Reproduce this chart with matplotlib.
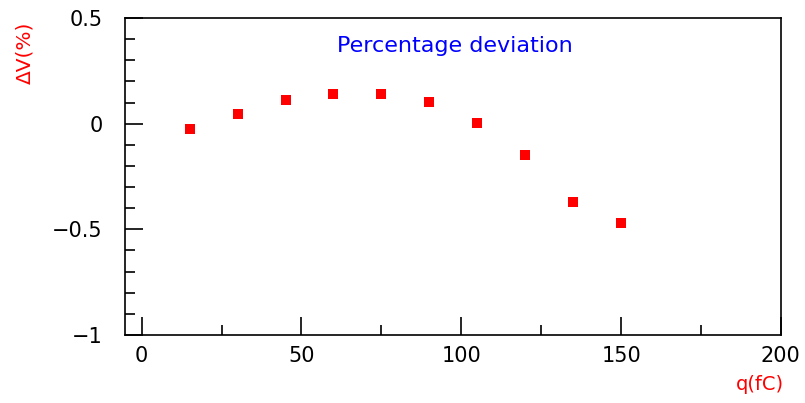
import numpy as np
import matplotlib
matplotlib.use("Agg")
import matplotlib.pyplot as plt
from matplotlib.ticker import MultipleLocator

plt.rcParams['font.family'] = ['DejaVu Sans']

# charge (fC) and percentage deviation
q = [15, 30, 45, 60, 75, 90, 105, 120, 135, 150]
dev = [-0.024, 0.048, 0.11, 0.143, 0.143, 0.105, 0.005, -0.148, -0.371, -0.471]

fig = plt.figure(figsize=(8.05, 4.03), dpi=100)
ax = fig.add_axes([0.155, 0.169, 0.815, 0.786])
ax.plot(q, dev, 's', color='#ff0000', markersize=6.5, markeredgewidth=0)

ax.set_xlim(-5.3, 200)
ax.set_ylim(-1, 0.5)
ax.xaxis.set_major_locator(MultipleLocator(50))
ax.xaxis.set_minor_locator(MultipleLocator(25))
ax.yaxis.set_major_locator(MultipleLocator(0.5))
ax.yaxis.set_minor_locator(MultipleLocator(0.1))
ax.tick_params(which='both', direction='in', top=False, right=False,
               labelsize=15, width=1.2)
ax.tick_params(axis='y', pad=16)
ax.tick_params(axis='x', pad=8)
ax.tick_params(which='major', length=13)
ax.tick_params(which='minor', length=7)
ax.set_yticks([-1, -0.5, 0, 0.5])
ax.set_yticklabels(['\u22121', '\u22120.5', '0', '0.5'])
for s in ax.spines.values():
    s.set_linewidth(1.2)

ax.text(98, 0.37, 'Percentage deviation', color='#0000ff', fontsize=16,
        ha='center', va='center')
fig.text(0.031, 0.87, '\u0394V(%)', color='#ff0000', fontsize=14.5,
         rotation=90, ha='center', va='center')
fig.text(0.944, 0.047, 'q(fC)', color='#ff0000', fontsize=14,
         ha='center', va='center')

plt.savefig("out.png")
plt.close()
